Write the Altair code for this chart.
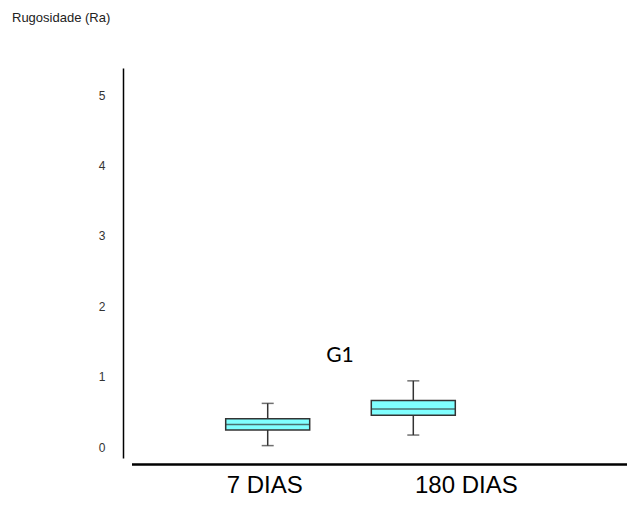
import altair as alt
import pandas as pd

# Data
categories = ["7 DIAS", "180 DIAS"]
lower = [0.02, 0.17]
q1 = [0.24, 0.45]
median = [0.32, 0.54]
q3 = [0.40, 0.66]
upper = [0.62, 0.94]
y_ticks = [0, 1, 2, 3, 4, 5]

df = pd.DataFrame({
    "cat": categories,
    "lower": lower,
    "q1": q1,
    "median": median,
    "q3": q3,
    "upper": upper,
})

W, H = 504, 390

x_enc = alt.X("cat:N", sort=categories, axis=None,
              scale=alt.Scale(range=[71.9, 363.1], paddingInner=0, paddingOuter=0))
y_scale = alt.Scale(domain=[-0.156, 5.384], nice=False, zero=False)

base = alt.Chart(df)

whisker = base.mark_rule(color="#333333", strokeWidth=1.5).encode(
    x=x_enc,
    y=alt.Y("lower:Q", scale=y_scale, title=None,
            axis=alt.Axis(values=y_ticks, ticks=False, grid=False, domainColor="black",
                          domainWidth=1.5, labelPadding=18, labelFontSize=12,
                          labelFont="Liberation Sans", labelColor="#333333", format="d")),
    y2="upper:Q",
)

box = base.mark_bar(size=84, fill="#80FFFF", stroke="#333333", strokeWidth=1.5).encode(
    x=x_enc, y=alt.Y("q1:Q", scale=y_scale), y2="q3:Q"
)

med = base.mark_tick(size=84, thickness=1.5, color="#333333").encode(
    x=x_enc, y=alt.Y("median:Q", scale=y_scale)
)

cap_lo = base.mark_tick(size=12, thickness=1.5, color="#333333").encode(
    x=x_enc, y=alt.Y("lower:Q", scale=y_scale)
)
cap_hi = base.mark_tick(size=12, thickness=1.5, color="#333333").encode(
    x=x_enc, y=alt.Y("upper:Q", scale=y_scale)
)

lab1 = alt.Chart(pd.DataFrame({"cat": [categories[0]]})).mark_text(
    fontSize=24, font="Liberation Sans", color="black", dx=-3, baseline="middle"
).encode(x=x_enc, y=alt.value(418), text="cat:N")
lab2 = alt.Chart(pd.DataFrame({"cat": [categories[1]]})).mark_text(
    fontSize=24, font="Liberation Sans", color="black", dx=53, baseline="middle"
).encode(x=x_enc, y=alt.value(418), text="cat:N")

xline = alt.Chart(df).mark_rule(color="black", strokeWidth=1.8).encode(
    x=alt.value(9), x2=alt.value(504), y=alt.value(396.5)
)

g1 = alt.Chart(pd.DataFrame({"t": ["G1"]})).mark_text(
    fontSize=21, font="Lato", color="black", baseline="middle", align="center"
).encode(x=alt.value(217), y=alt.value(288), text="t:N")

title = alt.Chart(pd.DataFrame({"t": ["Rugosidade (Ra)"]})).mark_text(
    fontSize=13, font="Liberation Sans", color="#222222", baseline="middle", align="left"
).encode(x=alt.value(-111), y=alt.value(-50), text="t:N")

chart = alt.layer(whisker, box, med, cap_lo, cap_hi, lab1, lab2, xline, g1, title).properties(
    width=W, height=H,
    background="white",
    autosize=alt.AutoSizeParams(type="none"),
    padding={"left": 115, "top": 60, "right": 0, "bottom": 41},
).configure_view(strokeWidth=0, stroke=None)

chart.save("out.html", embed_options={"renderer": "svg", "actions": False})
